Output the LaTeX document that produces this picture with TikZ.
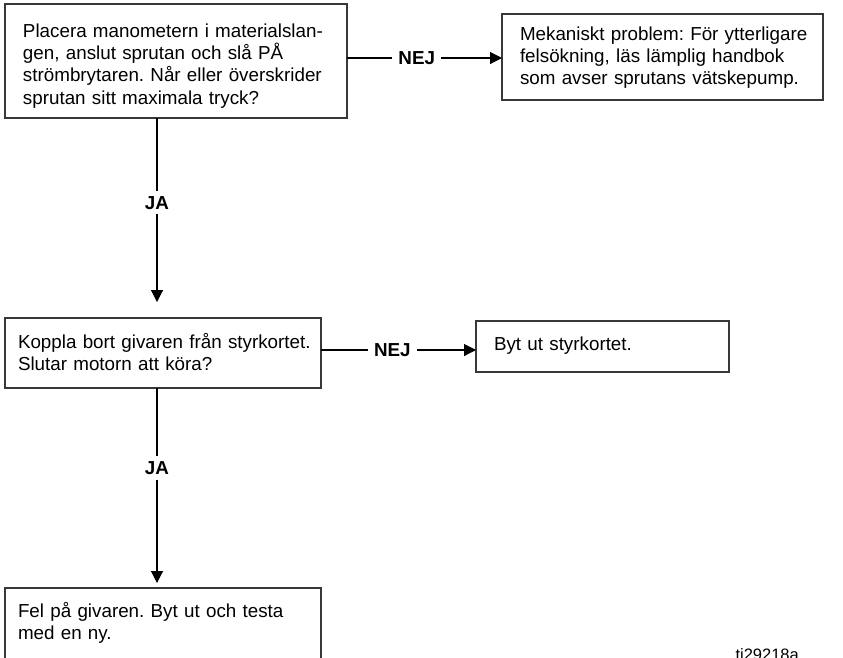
\documentclass[tikz,border=0pt]{standalone}
\usepackage{fontspec}
\setmainfont{Liberation Sans}
\usetikzlibrary{arrows.meta}
\frenchspacing

\tikzset{
	ruta/.style={draw=black!78, line width=1.4pt, rectangle, anchor=north west, outer sep=0pt, inner xsep=18pt, inner ysep=0pt, font=\fontsize{18.8}{22.4}\selectfont, execute at begin node={\rightskip=-30pt plus 1fil\relax}},
	pil/.style={-{Triangle[length=12pt,width=12pt]}, line width=1.1pt},
	svar/.style={fill=white, inner xsep=6pt, inner ysep=5pt, font=\fontsize{18.8}{22.4}\selectfont\bfseries},
}

\begin{document}
\begin{tikzpicture}[x=1pt,y=-1pt]
	
	\useasboundingbox (0,0) rectangle (843,657);
	\clip (0,0) rectangle (843,657);
	
	%Rutor
	\node[ruta, minimum width=342, text width=306, text height=33pt, text depth=81pt] (b1) at (5,4) {Placera manometern i materialslan-\\gen, anslut sprutan och slå PÅ\\strömbrytaren. Når eller överskrider\\sprutan sitt maximala tryck?};
	\node[ruta, minimum width=321, text width=285, text height=26pt, text depth=60pt] (b2) at (502,14) {Mekaniskt problem: För ytterligare\\felsökning, läs lämplig handbok\\som avser sprutans vätskepump.};
	\node[ruta, inner xsep=13pt, minimum width=316, text width=290, text height=30pt, text depth=40pt] (b3) at (5,318) {Koppla bort givaren från styrkortet.\\Slutar motorn att köra?};
	\node[ruta, minimum width=253, text width=217, text height=29pt, text depth=22pt] (b4) at (476,321) {Byt ut styrkortet.};
	\node[ruta, inner xsep=13pt, minimum width=316, text width=290, text height=29pt, text depth=80pt] (b5) at (5,588) {Fel på givaren. Byt ut och testa\\med en ny.};
	
	%Pilar
	\coordinate (m1) at (157,302);
	\coordinate (m2) at (157,583);
	\draw[pil] ([yshift=3pt]b1.east) -- node[svar, pos=0.45]{NEJ} ([yshift=3pt]b1.east -| b2.west);
	\draw[pil] (b1.south -| m1) -- node[svar, pos=0.46]{JA} (m1);
	\draw[pil] ([yshift=3pt]b3.east) -- node[svar, pos=0.46]{NEJ} ([yshift=3pt]b3.east -| b4.west);
	\draw[pil] (b3.south -| m2) -- node[svar, pos=0.41]{JA} (m2);
	
	%Bildnummer
	\node[anchor=base west, font=\fontsize{16.5}{18}\selectfont] (ritnr) at (732,660) {ti29218a};
	
\end{tikzpicture}
\end{document}
